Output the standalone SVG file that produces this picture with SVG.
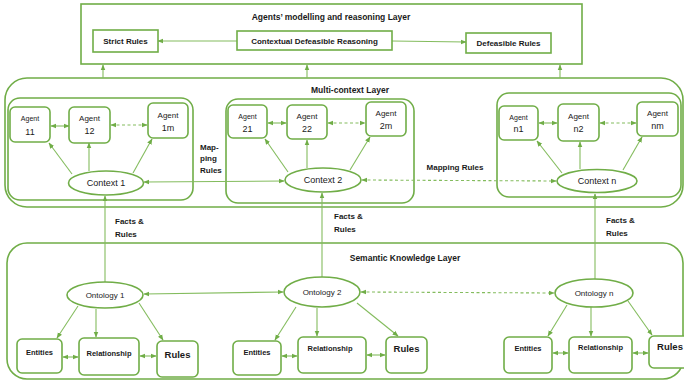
<svg xmlns="http://www.w3.org/2000/svg" width="684" height="381" viewBox="0 0 684 381">
<defs>
<marker id="ah" viewBox="0 0 10 10" refX="9" refY="5" markerWidth="6" markerHeight="6" markerUnits="userSpaceOnUse" orient="auto-start-reverse"><path d="M0,1 L10,5 L0,9 z" fill="#70AD47"/></marker>
</defs>
<style>
.layer{fill:#fff;stroke:#70AD47;stroke-width:1.6}
.box{fill:#fff;stroke:#70AD47;stroke-width:1.6}
.c{stroke:#84BC5E;stroke-width:1.1;fill:none}
.d{stroke-dasharray:3 2.5}
.e{marker-end:url(#ah)}
.b{marker-start:url(#ah);marker-end:url(#ah)}
text{font-family:"Liberation Sans",Arial,sans-serif;fill:#1a1a1a;text-anchor:middle}
.t{font-weight:bold;font-size:8.5px}
.bl{font-weight:bold;font-size:8px}
.lb{font-weight:bold;font-size:8px;text-anchor:start}
.ag{font-size:8px}
.ags{font-size:7px}
.num{font-size:9px}
.ctx{font-size:9px}
.ont{font-size:8px}
.sm{font-weight:bold;font-size:7.5px}
.ru{font-weight:bold;font-size:9.5px}
</style>

<!-- Layers -->
<g id="layer-agents">
<rect class="layer" x="81" y="4" width="501" height="60"/>
<text class="t" x="331" y="20">Agents’ modelling and reasoning Layer</text>
</g>
<g id="layer-multicontext">
<rect class="layer" x="5" y="78" width="678" height="129" rx="22"/>
<text class="t" x="350" y="93">Multi-context Layer</text>
</g>
<g id="layer-semantic">
<rect class="layer" x="7" y="243" width="676" height="136" rx="20"/>
<text class="t" x="405" y="261">Semantic Knowledge Layer</text>
</g>
<g id="context1-box"><rect class="box" x="8" y="98" width="185" height="102" rx="12"/></g>
<g id="context2-box"><rect class="box" x="226" y="99" width="188" height="104" rx="12"/></g>
<g id="contextn-box"><rect class="box" x="497" y="93" width="184" height="104" rx="12"/></g>

<!-- Connectors -->
<g id="connectors">
<line class="c e" x1="237" y1="41" x2="158" y2="41"/>
<line class="c e" x1="392" y1="41" x2="466" y2="42"/>
<line class="c e" x1="103" y1="78" x2="103" y2="65"/>
<line class="c e" x1="307" y1="78" x2="307" y2="65"/>
<line class="c e" x1="560" y1="78" x2="560" y2="65"/>

<line class="c b" x1="51" y1="126" x2="69" y2="126"/>
<line class="c b d" x1="111" y1="125" x2="147" y2="125"/>
<line class="c e" x1="72" y1="174" x2="49" y2="143"/>
<line class="c e" x1="89" y1="171" x2="89" y2="143"/>
<line class="c e" x1="133" y1="173" x2="152" y2="139"/>

<line class="c b" x1="268" y1="123" x2="286" y2="123"/>
<line class="c b d" x1="328" y1="123" x2="365" y2="123"/>
<line class="c e" x1="288" y1="172" x2="265" y2="139"/>
<line class="c e" x1="307" y1="168" x2="307" y2="140"/>
<line class="c e" x1="350" y1="170" x2="370" y2="137"/>

<line class="c b" x1="539" y1="123" x2="557" y2="123"/>
<line class="c b d" x1="600" y1="123" x2="636" y2="123"/>
<line class="c e" x1="562" y1="173" x2="537" y2="141"/>
<line class="c e" x1="580" y1="169" x2="580" y2="142"/>
<line class="c e" x1="623" y1="170" x2="642" y2="137"/>

<line class="c b" x1="144" y1="182" x2="284" y2="181"/>
<line class="c b d" x1="362" y1="180" x2="556" y2="181"/>

<line class="c e" x1="105" y1="283" x2="105" y2="196"/>
<line class="c e" x1="322" y1="277" x2="322" y2="193"/>
<line class="c e" x1="595" y1="279" x2="595" y2="194"/>

<line class="c b" x1="144" y1="294" x2="283" y2="292"/>
<line class="c b d" x1="361" y1="292" x2="554" y2="293"/>

<line class="c b" x1="63" y1="357" x2="78" y2="357"/>
<line class="c b" x1="140" y1="356" x2="156" y2="356"/>
<line class="c e" x1="78" y1="306" x2="57" y2="338"/>
<line class="c e" x1="96" y1="309" x2="96" y2="337"/>
<line class="c e" x1="139" y1="303" x2="163" y2="340"/>

<line class="c b" x1="282" y1="356" x2="297" y2="356"/>
<line class="c b" x1="367" y1="355" x2="385" y2="355"/>
<line class="c e" x1="296" y1="307" x2="275" y2="340"/>
<line class="c e" x1="317" y1="308" x2="317" y2="336"/>
<line class="c e" x1="357" y1="303" x2="398" y2="336"/>

<line class="c b" x1="553" y1="353" x2="568" y2="353"/>
<line class="c b" x1="633" y1="353" x2="648" y2="353"/>
<line class="c e" x1="567" y1="305" x2="548" y2="336"/>
<line class="c e" x1="591" y1="307" x2="591" y2="336"/>
<line class="c e" x1="628" y1="301" x2="652" y2="335"/>
</g>

<!-- Agents layer nodes -->
<g id="strict-rules"><rect class="box" x="93" y="30" width="65" height="22"/><text class="bl" x="125.5" y="44">Strict Rules</text></g>
<g id="cdr"><rect class="box" x="237" y="31" width="155" height="19"/><text class="bl" x="314.5" y="43.5">Contextual Defeasible Reasoning</text></g>
<g id="defeasible-rules"><rect class="box" x="466" y="33" width="85" height="20"/><text class="bl" x="508.5" y="46">Defeasible Rules</text></g>

<!-- Context 1 -->
<g id="agent11"><rect class="box" x="10" y="107" width="40" height="35" rx="5"/><text class="ags" x="30" y="121">Agent</text><text class="num" x="30" y="135">11</text></g>
<g id="agent12"><rect class="box" x="69" y="107" width="41" height="36" rx="5"/><text class="ag" x="89.5" y="121">Agent</text><text class="num" x="89.5" y="134">12</text></g>
<g id="agent1m"><rect class="box" x="148" y="103" width="40" height="35" rx="5"/><text class="ag" x="168" y="118">Agent</text><text class="num" x="168" y="131">1m</text></g>
<g id="context1"><ellipse class="box" cx="106" cy="183" rx="37.5" ry="12"/><text class="ctx" x="106" y="186">Context 1</text></g>

<!-- Context 2 -->
<g id="agent21"><rect class="box" x="228" y="105" width="39" height="33" rx="5"/><text class="ags" x="247.5" y="119">Agent</text><text class="num" x="247.5" y="132">21</text></g>
<g id="agent22"><rect class="box" x="287" y="105" width="40" height="34" rx="5"/><text class="ag" x="307" y="119">Agent</text><text class="num" x="307" y="132">22</text></g>
<g id="agent2m"><rect class="box" x="366" y="102" width="40" height="34" rx="5"/><text class="ag" x="386" y="116">Agent</text><text class="num" x="386" y="129">2m</text></g>
<g id="context2"><ellipse class="box" cx="323" cy="180" rx="38" ry="12"/><text class="ctx" x="323" y="183">Context 2</text></g>

<!-- Context n -->
<g id="agentn1"><rect class="box" x="499" y="106" width="39" height="34" rx="5"/><text class="ags" x="518.5" y="120">Agent</text><text class="num" x="518.5" y="132">n1</text></g>
<g id="agentn2"><rect class="box" x="558" y="104" width="41" height="37" rx="5"/><text class="ag" x="578.5" y="119">Agent</text><text class="num" x="578.5" y="132">n2</text></g>
<g id="agentnm"><rect class="box" x="637" y="102" width="41" height="34" rx="5"/><text class="ag" x="657.5" y="116">Agent</text><text class="num" x="657.5" y="129">nm</text></g>
<g id="contextn"><ellipse class="box" cx="597" cy="181" rx="40" ry="11.5"/><text class="ctx" x="597" y="184">Context n</text></g>

<!-- Labels -->
<g id="labels">
<text class="lb" x="200" y="150">Map-</text>
<text class="lb" x="200" y="161">ping</text>
<text class="lb" x="200" y="173">Rules</text>
<text class="bl" x="455" y="170">Mapping Rules</text>
<text class="lb" x="115" y="224">Facts &amp;</text>
<text class="lb" x="115" y="237">Rules</text>
<text class="lb" x="334" y="219">Facts &amp;</text>
<text class="lb" x="334" y="232">Rules</text>
<text class="lb" x="606" y="223">Facts &amp;</text>
<text class="lb" x="606" y="236">Rules</text>
</g>

<!-- Semantic layer -->
<g id="ontology1"><ellipse class="box" cx="105" cy="295" rx="38" ry="13"/><text class="ont" x="105" y="298">Ontology 1</text></g>
<g id="ontology2"><ellipse class="box" cx="322" cy="292" rx="38" ry="15"/><text class="ont" x="322" y="295">Ontology 2</text></g>
<g id="ontologyn"><ellipse class="box" cx="594" cy="293" rx="39" ry="14"/><text class="ont" x="594" y="296">Ontology n</text></g>

<g id="entities1"><rect class="box" x="17" y="339" width="45" height="34" rx="5"/><text class="sm" x="39.5" y="355">Entities</text></g>
<g id="relationship1"><rect class="box" x="79" y="338" width="60" height="37" rx="5"/><text class="sm" x="109" y="356">Relationship</text></g>
<g id="rules1"><rect class="box" x="157" y="341" width="41" height="36" rx="5"/><text class="ru" x="177.5" y="358">Rules</text></g>

<g id="entities2"><rect class="box" x="233" y="341" width="48" height="34" rx="5"/><text class="sm" x="257" y="355">Entities</text></g>
<g id="relationship2"><rect class="box" x="298" y="337" width="68" height="36" rx="5"/><text class="sm" x="330" y="351">Relationship</text></g>
<g id="rules2"><rect class="box" x="386" y="337" width="41" height="36" rx="5"/><text class="ru" x="406.5" y="352">Rules</text></g>

<g id="entitiesn"><rect class="box" x="504" y="337" width="48" height="36" rx="5"/><text class="sm" x="528" y="351">Entities</text></g>
<g id="relationshipn"><rect class="box" x="569" y="337" width="63" height="36" rx="5"/><text class="sm" x="600.5" y="350">Relationship</text></g>
<g id="rulesn"><rect class="box" x="649" y="336" width="45" height="32" rx="5"/><text class="ru" x="670" y="350">Rules</text></g>
</svg>
